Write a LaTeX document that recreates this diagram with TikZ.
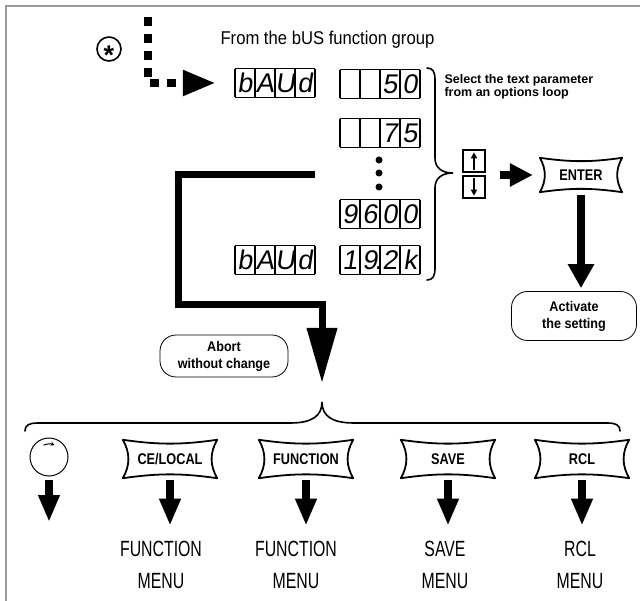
\documentclass[tikz,border=0pt]{standalone}
\usepackage{fontspec}
\setmainfont{Liberation Sans}
\newfontfamily\condfont{Liberation Sans}[FakeStretch=0.72]
\newfontfamily\keyfont{Liberation Sans}[FakeStretch=0.82]
\newfontfamily\medfont{Liberation Sans}[FakeStretch=0.9]
\newfontfamily\segfont{Liberation Sans}[FakeSlant=0.15]
\usetikzlibrary{arrows.meta, positioning, calc}

\newcommand\segcell[1]{\makebox[20pt]{\rule[-4.5pt]{0pt}{27.5pt}#1}}
\newcommand\segdisplay[4]{\def\arraystretch{0}\setlength\tabcolsep{0pt}\setlength\arrayrulewidth{1.3pt}%
  \begin{tabular}{|c|c|c|c|}\hline\segcell{#1}&\segcell{#2}&\segcell{#3}&\segcell{#4}\\\hline\end{tabular}}
\newcommand\keyoutline[1]{\draw[keyline] (#1.north west) to[bend right=8] (#1.north east) to[bend right=30] (#1.south east) to[bend right=8] (#1.south west) to[bend right=30] (#1.north west);}

\begin{document}
\begin{tikzpicture}[x=1pt, y=-1pt,
        segbox/.style={inner sep=0pt, font=\segfont\fontsize{27}{27}\selectfont},
        keybtn/.style={minimum width=94pt, minimum height=38pt, inner sep=0pt, font=\keyfont\bfseries\fontsize{15.5}{15.5}\selectfont},
        keyline/.style={line width=1.8pt, line join=round, line cap=round},
        arrowkey/.style={draw, line width=1.4pt, minimum size=22pt, inner sep=0pt},
        hint/.style={draw, line width=0.8pt, rounded corners=16pt, align=center, font=\medfont\bfseries\fontsize{14}{17}\selectfont},
        menulabel/.style={align=center, font=\condfont\fontsize{22}{32}\selectfont},
        fatarrow/.style={-{Triangle[length=23pt, width=22pt]}, line width=8pt},
        downarrow/.style={-{Triangle[length=24pt, width=25pt]}, line width=8pt},
        smallarrow/.style={-{Triangle[length=27pt, width=20pt]}, line width=8pt},
        loopline/.style={-{Triangle[length=55pt, width=29pt]}, line width=7pt},
        bracestyle/.style={line width=1.6pt, line cap=round},
        frameline/.style={draw=black!40, line width=2pt}
    ]
        \useasboundingbox (0,0) rectangle (640,601);
        % Frame
        \draw[frameline] (5,6.5) -- (640,6.5);
        \draw[frameline] (6,6) -- (6,601);

        % Entry from the bUS group
        \node[draw, circle, line width=1.6pt, minimum size=24pt, inner sep=0pt, font=\bfseries\fontsize{27}{27}\selectfont] (star) at (109,49) {\raisebox{-15.5pt}[0pt][0pt]{*}};
        \node[anchor=west, font=\medfont\fontsize{18.5}{20}\selectfont] (fromtxt) at (217,40) {From the bUS function group};
        \coordinate (dashtop) at (148,17);

        % Displays
        \node[segbox] (baud1) at (275,83) {\segdisplay{b}{A}{U}{d}};
        \node[segbox] (d50) at (380,84) {\segdisplay{}{}{5}{0}};
        \node[segbox] (d75) at (380,133) {\segdisplay{}{}{7}{5}};
        \node[segbox] (d9600) at (380,214) {\segdisplay{9}{6}{0}{0}};
        \node[segbox] (baud2) at (275,260) {\segdisplay{b}{A}{U}{d}};
        \node[segbox] (d192k) at (380,260) {\segdisplay{1}{9\rlap{\hspace{-3pt}.}}{2}{k}};
        \foreach \y in {160,173,187} \fill (379,\y) circle (3.5pt);

        \draw[line width=8pt, dash pattern=on 9pt off 8pt, -{Triangle[length=33pt, width=24pt]}, shorten >=19pt] (dashtop) |- (baud1);

        % Options brace
        \coordinate (selecttip) at (453,173);
        \draw[bracestyle] (427,68) .. controls (433,68) and (435,72) .. (435,80) -- (435,158) .. controls (435,168) and (442,173) .. (selecttip) .. controls (442,173) and (435,178) .. (435,188) -- (435,268) .. controls (435,276) and (433,280) .. (427,280);
        \node[anchor=north west, align=left, font=\bfseries\fontsize{12.5}{13}\selectfont] (selecttxt) at (441,71) {Select the text parameter\\from an options loop};

        % Keys and ENTER
        \node[arrowkey] (upkey) at (474,161) {};
        \node[arrowkey] (downkey) at (474,187) {};
        \draw[-{Triangle[length=6pt, width=6pt]}, line width=1.5pt, shorten <=3pt, shorten >=3pt] (upkey.south) -- (upkey.north);
        \draw[-{Triangle[length=6pt, width=6pt]}, line width=1.5pt, shorten <=3pt, shorten >=3pt] (downkey.north) -- (downkey.south);
        \node[keybtn, minimum width=82pt, minimum height=34pt] (enter) at (581,175) {ENTER};
        \coordinate (keysout) at (485,175);
        \draw[fatarrow, shorten <=15pt, shorten >=7pt] (keysout) -- (enter.west);

        \node[hint, minimum width=125pt, minimum height=49pt] (activate) at (574,316) {Activate\\the setting};
        \draw[downarrow, shorten <=3pt, shorten >=3pt] (enter.south) -- (enter.south |- activate.north);

        % Abort loop
        \node[hint, minimum width=128pt, minimum height=42pt] (abort) at (224,356) {Abort\\without change};
        \coordinate (loopstart) at (315,175);
        \coordinate (loopturn) at (178,305);
        \coordinate (menutip) at (322,402);
        \draw[loopline, shorten >=19pt] (loopstart) -| (loopturn) -| (menutip);

        % Bottom brace
        \draw[bracestyle] (25,431) .. controls (25,425) and (29,423) .. (38,423) -- (290,423) .. controls (312,423) and (322,416) .. (menutip) .. controls (322,416) and (332,423) .. (354,423) -- (607,423) .. controls (616,423) and (620,425) .. (620,431);

        % Bottom keys
        \node[circle, draw, line width=1pt, minimum size=38pt] (knob) at (49,457) {};
        \draw[line width=1pt, -{Stealth[length=4pt, width=4pt]}] ([shift={(-115:13)}]knob.center) arc (-115:-65:13);
        \node[keybtn] (ceb) at (170,459) {CE/LOCAL};
        \node[keybtn] (funb) at (306,459) {FUNCTION};
        \node[keybtn] (saveb) at (448,459) {SAVE};
        \node[keybtn] (rclb) at (582,459) {RCL};
        \foreach \k in {enter,ceb,funb,saveb,rclb} {\keyoutline{\k}}

        \node[menulabel] (cemenu) at (161,565) {FUNCTION\\MENU};
        \node[menulabel] (funmenu) at (296,565) {FUNCTION\\MENU};
        \node[menulabel] (savemenu) at (445,565) {SAVE\\MENU};
        \node[menulabel] (rclmenu) at (580,565) {RCL\\MENU};

        \coordinate (knobout) at (49,522);
        \draw[smallarrow, shorten <=3pt] (knob) -- (knobout);
        \draw[smallarrow, shorten <=2pt, shorten >=12pt] (ceb.south) -- (ceb.south |- cemenu.north);
        \draw[smallarrow, shorten <=2pt, shorten >=12pt] (funb.south) -- (funb.south |- funmenu.north);
        \draw[smallarrow, shorten <=2pt, shorten >=12pt] (saveb.south) -- (saveb.south |- savemenu.north);
        \draw[smallarrow, shorten <=2pt, shorten >=12pt] (rclb.south) -- (rclb.south |- rclmenu.north);
    \end{tikzpicture}
\end{document}
